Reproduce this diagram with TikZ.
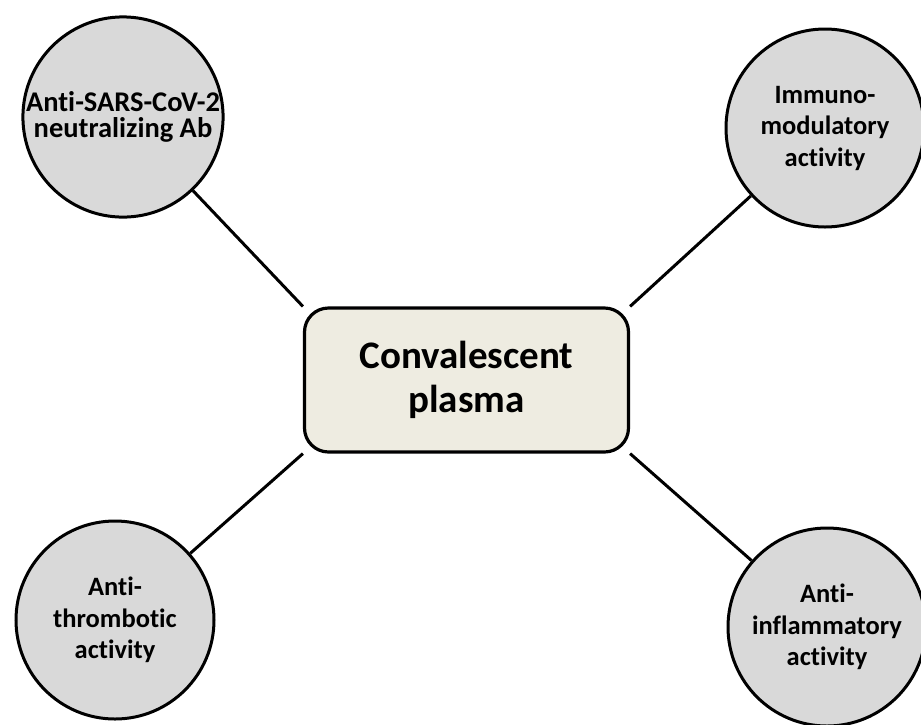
\documentclass[tikz,border=0pt]{standalone}
\usepackage{fontspec}
\setmainfont{Carlito}[Ligatures=NoCommon]
\usetikzlibrary{backgrounds}
\definecolor{circleColor}{HTML}{D9D9D9}
\definecolor{plasmaColor}{HTML}{EEECE1}
\tikzstyle{diagram} = [x = 1pt, y = -1pt]
\tikzstyle{effectCircle} = [circle, draw=black, line width=3pt, fill=circleColor, minimum size=198pt, inner sep=0pt, align=center, font=\fontsize{26.5}{31.5}\selectfont\bfseries]
\tikzstyle{plasmaBox} = [rectangle, draw=black, line width=3.2pt, fill=plasmaColor, rounded corners = 24pt, minimum width=324pt, minimum height=144pt, align=center, font=\fontsize{39}{44}\selectfont\bfseries]
\tikzstyle{linkLine} = [color=black, line width=3pt]

\begin{document}
\begin{tikzpicture}[diagram]
  \useasboundingbox (0,0) rectangle (921,724);
  % centre
  \node [plasmaBox] (plasma) at (466.5,380) {Convalescent\\plasma};
  % effects
  \node [effectCircle, font=\fontsize{28.5}{26}\selectfont\bfseries] (neutralizing) at (123,117) {Anti-SARS-CoV-2\\neutralizing Ab};
  \node [effectCircle] (immuno) at (825,128) {Immuno-\\modulatory\\activity};
  \node [effectCircle] (thrombotic) at (115,620) {Anti-\\thrombotic\\activity};
  \node [effectCircle] (inflammatory) at (827,627) {Anti-\\inflammatory\\activity};
  \begin{scope}[on background layer]
    \draw [linkLine] (neutralizing) -- (plasma.north west);
    \draw [linkLine] (immuno) -- (plasma.north east);
    \draw [linkLine] (thrombotic) -- (plasma.south west);
    \draw [linkLine] (inflammatory) -- (plasma.south east);
  \end{scope}
\end{tikzpicture}
\end{document}
